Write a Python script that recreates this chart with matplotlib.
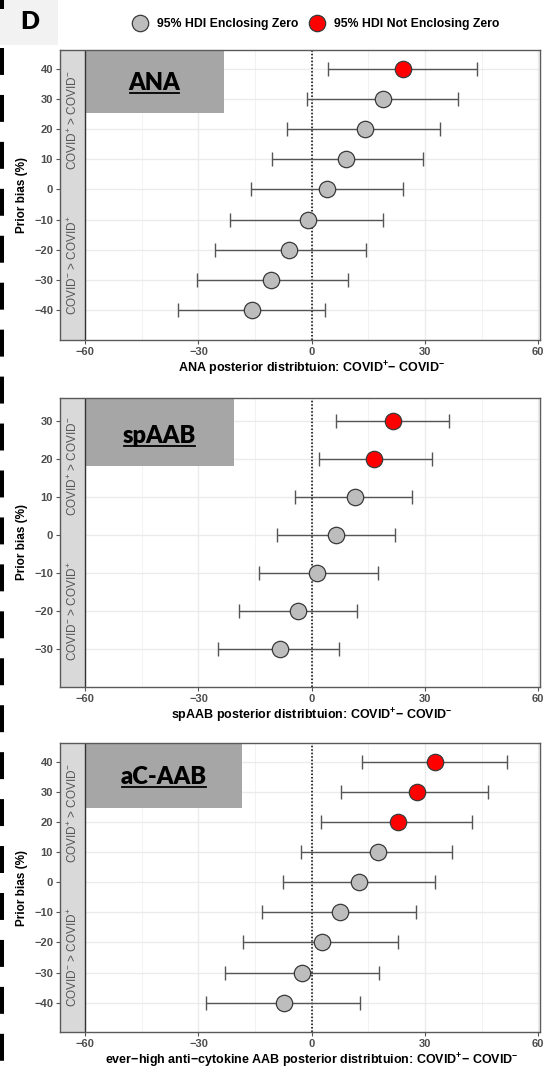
from __future__ import annotations

import matplotlib

matplotlib.use("Agg")

import matplotlib.pyplot as plt
from matplotlib.lines import Line2D
from matplotlib.patches import Rectangle

# --- data --------------------------------------------------------------------
ANA_BIAS = [40, 30, 20, 10, 0, -10, -20, -30, -40]
ANA_MEAN = [24.2, 19.0, 14.1, 9.1, 4.1, -1.1, -5.9, -10.9, -15.8]
ANA_LOW = [4.3, -1.2, -6.5, -10.4, -16.1, -21.6, -25.7, -30.5, -35.3]
ANA_HIGH = [43.9, 38.9, 33.9, 29.6, 24.1, 19.0, 14.5, 9.7, 3.6]

SPAAB_BIAS = [30, 20, 10, 0, -10, -20, -30]
SPAAB_MEAN = [21.6, 16.5, 11.5, 6.5, 1.5, -3.5, -8.3]
SPAAB_LOW = [6.5, 1.9, -4.5, -9.2, -14.0, -19.3, -24.7]
SPAAB_HIGH = [36.4, 31.9, 26.7, 22.0, 17.5, 12.1, 7.3]

ACAAB_BIAS = [40, 30, 20, 10, 0, -10, -20, -30, -40]
ACAAB_MEAN = [32.8, 27.8, 22.8, 17.7, 12.6, 7.6, 2.6, -2.5, -7.4]
ACAAB_LOW = [13.2, 7.7, 2.4, -2.8, -7.5, -13.3, -18.1, -23.1, -28.1]
ACAAB_HIGH = [51.8, 46.6, 42.4, 37.3, 32.6, 27.7, 22.9, 17.9, 12.9]

X_TICKS = [-60, -30, 0, 30, 60]
X_MINOR = [-45, -15, 15, 45]
LEGEND_LABELS = ["95% HDI Enclosing Zero", "95% HDI Not Enclosing Zero"]

W, H, DPI = 558, 1077, 100
XLIM = (-66.7, 60.5)
GRAY_PT = "#bdbdbd"
RED_PT = "#ff0000"
TICK_COL = "#4d4d4d"

plt.rcParams["font.family"] = ["Liberation Sans", "DejaVu Sans"]
plt.rcParams["mathtext.fontset"] = "custom"
plt.rcParams["mathtext.rm"] = "Liberation Sans"
plt.rcParams["mathtext.bf"] = "Liberation Sans:bold"
plt.rcParams["lines.scale_dashes"] = False


def fx(x):
    return x / W


def fy(y):
    return 1 - y / H


def draw_panel(fig, top, bottom, bias, mean, low, high, ylim, box, name, xlabel):
    ax = fig.add_axes([fx(60), fy(bottom), fx(480), (bottom - top) / H])
    ax.set_xlim(*XLIM)
    ax.set_ylim(*ylim)

    # grid
    for x in X_TICKS:
        ax.axvline(x, color="#ebebeb", lw=1.0, zorder=0)
    for x in X_MINOR:
        ax.axvline(x, color="#f0f0f0", lw=0.6, zorder=0)
    for y in bias:
        ax.axhline(y, color="#ebebeb", lw=1.0, zorder=0)

    # strip on the left + label box
    ax.axvspan(-70, -60, color="#d9d9d9", zorder=1, lw=0)
    ax.axvline(-60, color="#333333", lw=1.0, zorder=2)
    box_right, box_bottom = box
    ax.add_patch(Rectangle((-60, box_bottom), box_right + 60, ylim[1] - box_bottom + 1,
                           facecolor="#a6a6a6", edgecolor="none", zorder=1))
    label = ax.text((box_right - 60) / 2, (box_bottom + ylim[1]) / 2 - 2.8, name,
                    ha="center", va="baseline", fontsize=17, fontweight="heavy",
                    family="Lato", color="black", zorder=5)

    ax.text(-63.35, ylim[1] / 2, r"COVID$^{+}$ > COVID$^{-}$", rotation=90,
            ha="center", va="center", fontsize=8.5, color="#555555", zorder=3)
    ax.text(-63.35, ylim[0] / 2, r"COVID$^{-}$ > COVID$^{+}$", rotation=90,
            ha="center", va="center", fontsize=8.5, color="#555555", zorder=3)

    ax.axvline(0, color="black", lw=1.1, linestyle=(0, (1.1, 1.4)), zorder=3)

    for b, m, lo, hi in zip(bias, mean, low, high):
        color = RED_PT if lo > 0 or hi < 0 else GRAY_PT
        ax.errorbar(m, b, xerr=[[m - lo], [hi - m]], fmt="none", ecolor="#555555",
                    elinewidth=1.0, capsize=4.7, capthick=1.0, zorder=4)
        ax.plot(m, b, "o", ms=11.8, mfc=color, mec="#3a3a3a", mew=0.9, zorder=5)

    ax.set_xticks(X_TICKS)
    ax.set_yticks(bias)
    ax.tick_params(colors="#555555", labelcolor=TICK_COL, labelsize=8,
                   length=3, width=0.8, pad=2)
    for t in ax.get_xticklabels() + ax.get_yticklabels():
        t.set_fontweight("bold")
    for s in ax.spines.values():
        s.set_color("#5a5a5a")
        s.set_linewidth(1.0)
        s.set_zorder(6)

    ax.set_ylabel("Prior bias (%)", fontsize=8.5, fontweight="bold", labelpad=4)
    ax.set_xlabel(xlabel, fontsize=9, fontweight="bold", labelpad=2)
    # label centred on the -60..60 data area, not on the whole frame
    ax.xaxis.label.set_x((0 - XLIM[0]) / (XLIM[1] - XLIM[0]))
    return ax, label


fig = plt.figure(figsize=(W / DPI, H / DPI), dpi=DPI)

sup = r"COVID$^{\mathbf{+}}$− COVID$^{\mathbf{-}}$"
panels = [
    draw_panel(fig, 50, 340, ANA_BIAS, ANA_MEAN, ANA_LOW, ANA_HIGH,
               (-49.9, 46.2), (-23.3, 25.3), "ANA",
               "ANA posterior distribtuion: " + sup),
    draw_panel(fig, 398.3, 686.7, SPAAB_BIAS, SPAAB_MEAN, SPAAB_LOW, SPAAB_HIGH,
               (-40.0, 36.0), (-20.5, 18.2), "spAAB",
               "spAAB posterior distribtuion: " + sup),
    draw_panel(fig, 743.3, 1032.3, ACAAB_BIAS, ACAAB_MEAN, ACAAB_LOW, ACAAB_HIGH,
               (-49.8, 46.1), (-18.4, 24.7), "aC-AAB",
               "ever−high anti−cytokine AAB posterior distribtuion: " + sup),
]

# panel letter
fig.add_artist(Rectangle((0, fy(45)), fx(58), 45 / H, transform=fig.transFigure,
                         facecolor="#f2f2f2", edgecolor="none"))
fig.text(fx(30), fy(22), "D", ha="center", va="center", fontsize=18,
         fontweight="heavy", family="Lato")

# dashed separator on the left edge
fig.add_artist(Line2D([fx(2), fx(2)], [fy(0), fy(9)], transform=fig.transFigure,
                      color="black", lw=2.9, solid_capstyle="butt"))
fig.add_artist(Line2D([fx(2), fx(2)], [fy(48), 0], transform=fig.transFigure,
                      color="black", lw=2.9, linestyle=(0, (19.4, 14.4)),
                      dash_capstyle="butt"))

handles = [
    Line2D([], [], marker="o", ls="none", ms=11.8, mfc=GRAY_PT, mec="#3a3a3a", mew=0.9),
    Line2D([], [], marker="o", ls="none", ms=11.8, mfc=RED_PT, mec="#3a3a3a", mew=0.9),
]
leg = fig.legend(handles, LEGEND_LABELS, loc="center", bbox_to_anchor=(fx(316), fy(24)),
                 ncol=2, frameon=False, handlelength=1.2, handletextpad=0.8,
                 columnspacing=0.9, prop={"weight": "bold", "size": 8.8})

# underline panel names
fig.canvas.draw()
renderer = fig.canvas.get_renderer()
inv = fig.transFigure.inverted()
for ax, label in panels:
    bb = label.get_window_extent(renderer)
    base = ax.transData.transform((0, label.get_position()[1]))[1]
    (x0, y0), (x1, _) = inv.transform([(bb.x0 + 1, base - 3.5), (bb.x1 - 1, base - 3.5)])
    fig.add_artist(Line2D([x0, x1], [y0, y0], transform=fig.transFigure,
                          color="black", lw=1.3))

fig.savefig("out.png", dpi=DPI)
